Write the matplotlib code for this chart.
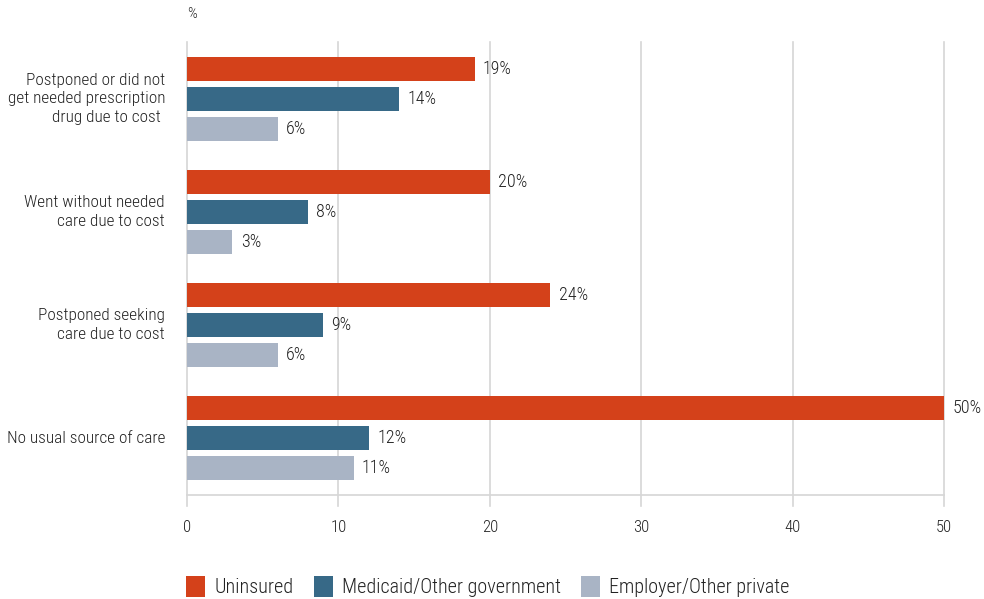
import numpy as np
import matplotlib.pyplot as plt
from matplotlib import font_manager
from matplotlib.patches import Patch

# survey results, % of adults by insurance type
categories = ['Postponed or did not\nget needed prescription\ndrug due to cost ',
              'Went without needed\ncare due to cost',
              'Postponed seeking\ncare due to cost',
              'No usual source of care']
series = ['Uninsured', 'Medicaid/Other government', 'Employer/Other private']
uninsured = [19, 20, 24, 50]
medicaid = [14, 8, 9, 12]
employer = [6, 3, 6, 11]
colors = ['#d4411a', '#376987', '#a9b4c5']

available = {f.name for f in font_manager.fontManager.ttflist}
fam = [f for f in ['Roboto Condensed', 'Liberation Sans Narrow', 'Roboto'] if f in available]
plt.rcParams['font.family'] = fam + ['DejaVu Sans']
plt.rcParams['font.weight'] = 'light'

fig = plt.figure(figsize=(9.84, 5.99), dpi=100)
ax = fig.add_axes([187/984, 1-495/599, (944-187)/984, 453/599])

y = np.arange(len(categories))
off = 0.265
h = 0.212
for vals, dy, c in zip([uninsured, medicaid, employer], [-off, 0, off], colors):
    ax.barh(y + dy, vals, height=h, color=c, zorder=3)
    for yi, v in zip(y, vals):
        ax.text(v + 0.55, yi + dy, f'{v}%', va='center', ha='left',
                fontsize=13, color='#222222')

ax.set_xlim(0, 50)
ax.set_ylim(3.5, -0.5)
ax.set_xticks([0, 10, 20, 30, 40, 50])
ax.set_yticks([])
for x in [0, 10, 20, 30, 40, 50]:
    ax.plot([x, x], [-0.5, 3.6], color='#d6d6d6', lw=1.2, zorder=1, clip_on=False)
for s in ['top', 'right', 'left']:
    ax.spines[s].set_visible(False)
ax.spines['bottom'].set_color('#d6d6d6')
ax.spines['bottom'].set_linewidth(1.2)
ax.tick_params(axis='x', length=0, pad=18, labelsize=12, labelcolor='#222222')

for yi, lab in zip(y, categories):
    ax.text(-1.45, yi, lab, ha='right', va='center', multialignment='right',
            fontsize=12.4, color='#222222', linespacing=1.3)

fig.text(187/984, 1-14/599, '%', fontsize=11, color='#222222', va='center')

handles = [Patch(facecolor=c, edgecolor='none') for c in colors]
fig.legend(handles, series, loc='lower left', bbox_to_anchor=(168/984, -0.027),
           ncol=3, frameon=False, fontsize=14.5, handlelength=0.95, handleheight=1.25,
           handletextpad=0.45, columnspacing=1.0, labelcolor='#222222')

fig.savefig('out.png', dpi=100)
